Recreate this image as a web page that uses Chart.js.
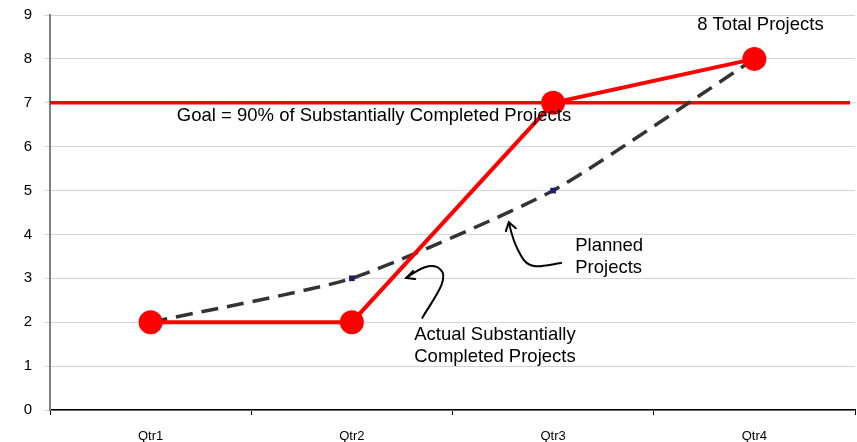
<!DOCTYPE html>
<html lang="en">
<head>
    <meta charset="UTF-8">
    <title>Substantially Completed Projects</title>
    <script src="https://cdn.jsdelivr.net/npm/chart.js@4.4.1/dist/chart.umd.min.js"></script>
    <style>
        html, body { margin: 0; padding: 0; background: #fff; overflow: hidden; }
        #wrap { width: 857px; height: 442px; position: relative; }
        #chart { display: block; }
    </style>
</head>
<body>
    <div id="wrap"><canvas id="chart"></canvas></div>
    <script>
        // data
        var quarters = ['Qtr1', 'Qtr2', 'Qtr3', 'Qtr4'];
        var actualProjects = [2, 2, 7, 8];
        var plannedProjects = [2, 3, 5, 8];
        var goalValue = 7;
        var yMin = 0, yMax = 9, yStep = 1;

        // text notes, placed in data units (category index, value)
        var notes = [
            { lines: ['8 Total Projects'], i: 3.03, v: 8.77, align: 'center' },
            { lines: ['Goal = 90% of Substantially Completed Projects'], i: 1.11, v: 6.69, align: 'center' },
            { lines: ['Planned', 'Projects'], i: 2.11, v: 3.74, align: 'left' },
            { lines: ['Actual Substantially', 'Completed Projects'], i: 1.31, v: 1.71, align: 'left' }
        ];

        function px(chart, i, v) {
            return [chart.scales.x.getPixelForValue(i), chart.scales.y.getPixelForValue(v)];
        }

        // goal line under the series
        var goalLine = {
            id: 'goalLine',
            beforeDatasetsDraw: function(chart) {
                var ctx = chart.ctx, area = chart.chartArea;
                var y = chart.scales.y.getPixelForValue(goalValue);
                ctx.save();
                ctx.strokeStyle = '#ff0000';
                ctx.lineWidth = 3.5;
                ctx.beginPath();
                ctx.moveTo(area.left, y);
                ctx.lineTo(area.right - 5, y);
                ctx.stroke();
                ctx.restore();
            }
        };

        // labels and hand-drawn arrows
        var callouts = {
            id: 'callouts',
            afterDraw: function(chart) {
                var ctx = chart.ctx;
                ctx.save();
                ctx.fillStyle = '#000';
                ctx.font = '18.5px "Liberation Sans", Arial, sans-serif';
                ctx.textBaseline = 'middle';
                notes.forEach(function(n) {
                    var p = px(chart, n.i, n.v);
                    ctx.textAlign = n.align;
                    n.lines.forEach(function(line, k) {
                        ctx.fillText(line, p[0], p[1] + k * 22);
                    });
                });

                ctx.strokeStyle = '#000';
                ctx.lineWidth = 2;
                ctx.lineCap = 'round';

                // arrow toward the actual line
                var a = [[1.35, 2.10], [1.40, 2.50], [1.49, 3.00], [1.44, 3.20],
                         [1.40, 3.40], [1.33, 3.20], [1.27, 3.01]].map(function(q) { return px(chart, q[0], q[1]); });
                ctx.beginPath();
                ctx.moveTo(a[0][0], a[0][1]);
                ctx.bezierCurveTo(a[1][0], a[1][1], a[2][0], a[2][1], a[3][0], a[3][1]);
                ctx.bezierCurveTo(a[4][0], a[4][1], a[5][0], a[5][1], a[6][0], a[6][1]);
                ctx.stroke();
                ctx.beginPath();
                ctx.moveTo(a[6][0] + 7, a[6][1] - 7);
                ctx.lineTo(a[6][0], a[6][1]);
                ctx.lineTo(a[6][0] + 9, a[6][1] + 1);
                ctx.stroke();

                // arrow toward the planned line
                var b = [[2.04, 3.35], [1.95, 3.29], [1.88, 3.15], [1.84, 3.52],
                         [1.81, 3.75], [1.79, 4.05], [1.78, 4.28]].map(function(q) { return px(chart, q[0], q[1]); });
                ctx.beginPath();
                ctx.moveTo(b[0][0], b[0][1]);
                ctx.bezierCurveTo(b[1][0], b[1][1], b[2][0], b[2][1], b[3][0], b[3][1]);
                ctx.bezierCurveTo(b[4][0], b[4][1], b[5][0], b[5][1], b[6][0], b[6][1]);
                ctx.stroke();
                ctx.beginPath();
                ctx.moveTo(b[6][0] - 3, b[6][1] + 9);
                ctx.lineTo(b[6][0], b[6][1]);
                ctx.lineTo(b[6][0] + 7, b[6][1] + 6);
                ctx.stroke();
                ctx.restore();
            }
        };

        new Chart(document.getElementById('chart'), {
            type: 'line',
            data: {
                labels: quarters,
                datasets: [{
                    label: 'Actual Substantially Completed Projects',
                    data: actualProjects,
                    borderColor: '#ff0000',
                    backgroundColor: '#ff0000',
                    borderWidth: 4,
                    pointRadius: 10,
                    pointHoverRadius: 10,
                    tension: 0
                }, {
                    label: 'Planned Projects',
                    data: plannedProjects,
                    borderColor: '#333333',
                    backgroundColor: '#1c1c70',
                    borderWidth: 3.5,
                    borderDash: [17, 9],
                    pointStyle: 'rect',
                    pointRadius: 4,
                    pointBorderWidth: 0,
                    tension: 0.18
                }]
            },
            options: {
                responsive: true,
                maintainAspectRatio: false,
                animation: false,
                // big point markers would otherwise push the plot edges inward
                layout: { autoPadding: false, padding: { top: 15, right: 2, left: 0, bottom: 0 } },
                plugins: {
                    legend: { display: false },
                    tooltip: { enabled: false }
                },
                scales: {
                    x: {
                        offset: true,
                        grid: { offset: true, drawOnChartArea: false, tickLength: 5, color: '#000' },
                        border: { color: '#000', width: 1.5 },
                        ticks: { color: '#000', padding: 14, font: { family: '"Liberation Sans Narrow", "Liberation Sans", Arial', size: 13 } },
                        afterFit: function(s) {
                            s.height = 32;
                            s.paddingLeft = 0;
                            s.paddingRight = 0;
                        }
                    },
                    y: {
                        min: yMin,
                        max: yMax,
                        ticks: { stepSize: yStep, color: '#000', padding: 12, font: { family: '"Liberation Sans", Arial', size: 15 } },
                        grid: { color: '#d4d4d4', tickLength: 6, lineWidth: 1 },
                        border: { color: '#808080', width: 2 },
                        afterFit: function(s) {
                            s.width = 50;
                            s.paddingTop = 0;
                            s.paddingBottom = 0;
                        }
                    }
                }
            },
            plugins: [goalLine, callouts]
        });
    </script>
</body>
</html>
